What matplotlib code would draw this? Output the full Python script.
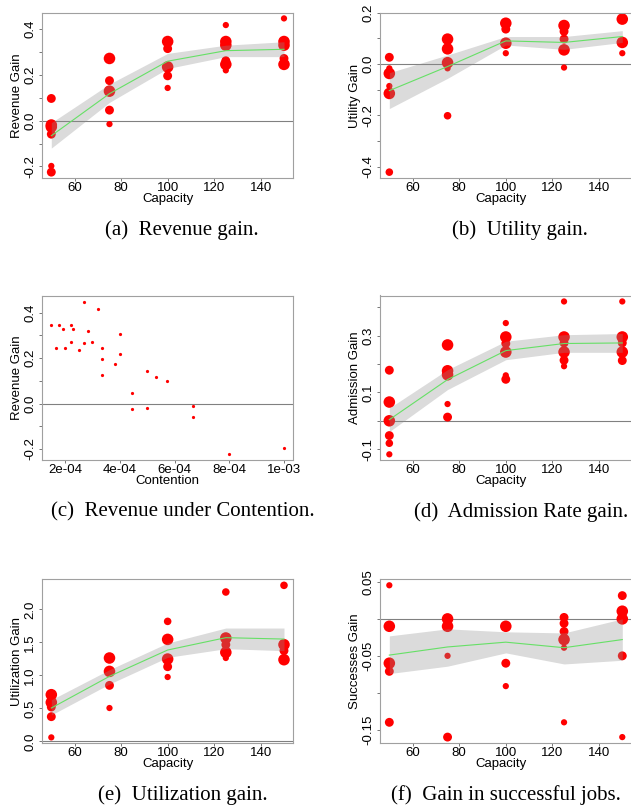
import matplotlib
matplotlib.use("Agg")
import matplotlib.pyplot as plt

W, H = 631, 807

# === Data ===
capacity = [50, 75, 100, 125, 150]

# (a) revenue gain: capacity, gain, point weight
rev_x = [50, 50, 50, 50, 50, 50,
         75, 75, 75, 75, 75,
         100, 100, 100, 100, 100,
         125, 125, 125, 125, 125, 125,
         150, 150, 150, 150, 150]
rev_y = [0.097, -0.019, -0.027, -0.059, -0.198, -0.225,
         0.272, 0.175, 0.129, 0.046, -0.015,
         0.346, 0.315, 0.235, 0.196, 0.143,
         0.418, 0.346, 0.330, 0.262, 0.246, 0.220,
         0.447, 0.346, 0.330, 0.272, 0.246]
rev_w = [2, 3, 3, 2, 1, 2,
         3, 2, 3, 2, 1,
         3, 2, 3, 2, 1,
         1, 3, 3, 2, 3, 1,
         1, 3, 3, 2, 3]
rev_fit = [-0.066, 0.118, 0.260, 0.306, 0.312]
rev_lo = [-0.120, 0.080, 0.228, 0.280, 0.280]
rev_hi = [-0.009, 0.160, 0.294, 0.330, 0.345]

# (b) utility gain
util_x = [50, 50, 50, 50, 50, 50,
          75, 75, 75, 75, 75,
          100, 100, 100, 100,
          125, 125, 125, 125, 125,
          150, 150, 150]
util_y = [0.026, -0.017, -0.037, -0.086, -0.115, -0.422,
          0.097, 0.059, 0.005, -0.017, -0.202,
          0.159, 0.136, 0.081, 0.042,
          0.150, 0.127, 0.097, 0.055, -0.014,
          0.175, 0.084, 0.042]
util_w = [2, 1, 3, 1, 3, 1.5,
          3, 3, 3, 1, 1.5,
          3, 2, 3, 1,
          3, 2, 2, 3, 1,
          3, 3, 1]
util_fit = [-0.104, -0.010, 0.090, 0.084, 0.107]
util_lo = [-0.174, -0.056, 0.074, 0.057, 0.084]
util_hi = [-0.034, 0.035, 0.107, 0.107, 0.130]

# (c) revenue gain vs contention
cont_x = [1.49e-4, 1.67e-4, 1.77e-4, 1.91e-4, 2.00e-4, 2.22e-4, 2.22e-4, 2.28e-4,
          2.50e-4, 2.67e-4, 2.67e-4, 2.85e-4, 2.98e-4, 3.20e-4, 3.34e-4, 3.34e-4,
          3.34e-4, 3.81e-4, 4.00e-4, 4.00e-4, 4.44e-4, 4.44e-4, 4.99e-4, 4.99e-4,
          5.33e-4, 5.72e-4, 6.68e-4, 6.68e-4, 8.00e-4, 1.00e-3]
cont_y = [0.347, 0.245, 0.347, 0.330, 0.245, 0.347, 0.273, 0.330,
          0.234, 0.447, 0.267, 0.318, 0.273, 0.418, 0.245, 0.196,
          0.127, 0.176, 0.305, 0.220, 0.047, -0.025, 0.145, -0.019,
          0.119, 0.097, -0.012, -0.059, -0.224, -0.198]
cont_ticks = [2e-4, 4e-4, 6e-4, 8e-4, 1e-3]
cont_labels = ["2e-04", "4e-04", "6e-04", "8e-04", "1e-03"]

# (d) admission gain
adm_x = [50, 50, 50, 50, 50, 50,
         75, 75, 75, 75, 75,
         100, 100, 100, 100, 100, 100,
         125, 125, 125, 125, 125, 125,
         150, 150, 150, 150, 150]
adm_y = [0.178, 0.066, 0.000, -0.052, -0.079, -0.118,
         0.267, 0.176, 0.162, 0.059, 0.013,
         0.344, 0.295, 0.272, 0.242, 0.160, 0.146,
         0.420, 0.295, 0.274, 0.242, 0.213, 0.192,
         0.420, 0.295, 0.274, 0.242, 0.212]
adm_w = [2, 3, 3, 2, 1.5, 1,
         3, 3, 3, 1, 2,
         1, 3, 2, 3, 1, 2,
         1, 3, 2, 3, 2, 1,
         1, 3, 2, 3, 2]
adm_fit = [0.004, 0.145, 0.247, 0.272, 0.274]
adm_lo = [-0.038, 0.110, 0.215, 0.241, 0.241]
adm_hi = [0.045, 0.180, 0.280, 0.303, 0.307]

# (e) utilization gain
ute_x = [50, 50, 50, 50, 50,
         75, 75, 75, 75,
         100, 100, 100, 100, 100,
         125, 125, 125, 125, 125,
         150, 150, 150, 150]
ute_y = [0.707, 0.590, 0.520, 0.374, 0.060,
         1.263, 1.060, 0.848, 0.505,
         1.818, 1.545, 1.247, 1.131, 0.975,
         2.263, 1.566, 1.465, 1.348, 1.263,
         2.364, 1.465, 1.374, 1.237]
ute_w = [3, 3, 2, 2, 1,
         3, 3, 2, 1,
         1.5, 3, 3, 2, 1,
         1.5, 3, 2, 3, 1,
         1.5, 3, 2, 3]
ute_fit = [0.505, 0.985, 1.384, 1.571, 1.550]
ute_lo = [0.400, 0.869, 1.273, 1.404, 1.374]
ute_hi = [0.630, 1.086, 1.490, 1.717, 1.717]

# (f) successes gain
succ_x = [50, 50, 50, 50, 50,
          75, 75, 75, 75,
          100, 100, 100,
          125, 125, 125, 125, 125, 125,
          150, 150, 150, 150, 150]
succ_y = [0.0455, -0.010, -0.060, -0.071, -0.140,
          0.000, -0.010, -0.050, -0.160,
          -0.010, -0.060, -0.091,
          0.002, -0.006, -0.017, -0.028, -0.039, -0.140,
          0.0315, 0.0104, 0.000, -0.050, -0.160]
succ_w = [1, 3, 3, 2, 2,
          3, 3, 1, 2,
          3, 2, 1,
          2, 2, 2, 3, 1, 1,
          2, 3, 3, 2, 1]
succ_fit = [-0.049, -0.038, -0.0315, -0.039, -0.028]
succ_lo = [-0.074, -0.064, -0.046, -0.061, -0.056]
succ_hi = [-0.023, -0.0135, -0.0175, -0.019, 0.000]

captions = ["(a)  Revenue gain.", "(b)  Utility gain.",
            "(c)  Revenue under Contention.", "(d)  Admission Rate gain.",
            "(e)  Utilization gain.", "(f)  Gain in successful jobs."]

# === Styling ===
RED = "#ff0000"
SANS = "Liberation Sans"
SERIF = "Liberation Serif"
FS = 9.5


def px_axes(fig, x0, x1, ytop, ybot):
    return fig.add_axes([x0 / W, 1 - ybot / H, (x1 - x0) / W, (ybot - ytop) / H])


def marker_area(w):
    # weight -> diameter in px -> area in pt^2
    d = 3.6 + 2.65 * w
    return (d * 0.72) ** 2


def style_axes(ax, yticks, ylabels, xticks, xlabels):
    for sp in ax.spines.values():
        sp.set_color("#a0a0a0")
        sp.set_linewidth(0.8)
    ax.set_yticks(yticks)
    ax.set_yticklabels(ylabels, rotation=90, va="center", fontsize=FS, family=SANS)
    ax.set_xticks(xticks)
    ax.set_xticklabels(xlabels, fontsize=FS, family=SANS)
    ax.tick_params(length=2.5, width=0.7, color="#777777", pad=1.5)
    ax.tick_params(axis="x", pad=0.5)
    ax.axhline(0, color="#808080", lw=0.8, zorder=1)


def gain_panel(ax, xs, ys, ws, fit, lo, hi, ylim):
    ax.scatter(xs, ys, s=[marker_area(w) for w in ws], color=RED, lw=0, zorder=2)
    ax.fill_between(capacity, lo, hi, color="#8f8f8f", alpha=0.32, lw=0, zorder=3)
    ax.plot(capacity, fit, color="#66e066", lw=0.8, zorder=4)
    ax.set_xlim(46, 154)
    ax.set_ylim(*ylim)


def tick_text(vals, keep, fmt):
    return [fmt.format(v) if k else "" for v, k in zip(vals, keep)]


fig = plt.figure(figsize=(W / 100, H / 100), dpi=100)

LX0, LX1 = 42, 293.3
RX0, RX1 = 380, 631.6
rows = [(12.7, 178.3), (295.5, 460), (579, 743)]
cap_x = [40, 60, 80, 100, 120, 140]
cap_lab = ["", "60", "80", "100", "120", "140"]

# (a)
ax = px_axes(fig, LX0, LX1, *rows[0])
gain_panel(ax, rev_x, rev_y, rev_w, rev_fit, rev_lo, rev_hi, (-0.252, 0.472))
yt = [-0.2, -0.1, 0.0, 0.1, 0.2, 0.3, 0.4]
style_axes(ax, yt, tick_text(yt, [1, 0, 1, 0, 1, 0, 1], "{:.1f}"), cap_x[1:], cap_lab[1:])

# (b)
ax = px_axes(fig, RX0, RX1, *rows[0])
gain_panel(ax, util_x, util_y, util_w, util_fit, util_lo, util_hi, (-0.446, 0.2))
yt = [-0.4, -0.3, -0.2, -0.1, 0.0, 0.1, 0.2]
style_axes(ax, yt, tick_text(yt, [1, 0, 1, 0, 1, 0, 1], "{:.1f}"), cap_x[1:], cap_lab[1:])

# (c)
ax = px_axes(fig, LX0, LX1, *rows[1])
ax.scatter(cont_x, cont_y, s=(3.2 * 0.72) ** 2, color=RED, lw=0, zorder=2)
ax.set_xlim(1.15e-4, 1.034e-3)
ax.set_ylim(-0.249, 0.476)
yt = [-0.2, -0.1, 0.0, 0.1, 0.2, 0.3, 0.4]
style_axes(ax, yt, tick_text(yt, [1, 0, 1, 0, 1, 0, 1], "{:.1f}"), cont_ticks, cont_labels)

# (d)
ax = px_axes(fig, RX0, RX1, *rows[1])
gain_panel(ax, adm_x, adm_y, adm_w, adm_fit, adm_lo, adm_hi, (-0.138, 0.441))
yt = [-0.1, 0.0, 0.1, 0.2, 0.3, 0.4]
style_axes(ax, yt, tick_text(yt, [1, 0, 1, 0, 1, 0], "{:.1f}"), cap_x[1:], cap_lab[1:])

# (e)
ax = px_axes(fig, LX0, LX1, *rows[2])
gain_panel(ax, ute_x, ute_y, ute_w, ute_fit, ute_lo, ute_hi, (-0.025, 2.46))
yt = [0.0, 0.5, 1.0, 1.5, 2.0]
style_axes(ax, yt, tick_text(yt, [1, 1, 1, 1, 1], "{:.1f}"), cap_x[1:], cap_lab[1:])

# (f)
ax = px_axes(fig, RX0, RX1, *rows[2])
gain_panel(ax, succ_x, succ_y, succ_w, succ_fit, succ_lo, succ_hi, (-0.168, 0.054))
yt = [-0.15, -0.10, -0.05, 0.0, 0.05]
style_axes(ax, yt, tick_text(yt, [1, 0, 1, 0, 1], "{:.2f}"), cap_x[1:], cap_lab[1:])

# === Axis labels and captions (pixel positions) ===
ylabels = ["Revenue Gain", "Utility Gain", "Revenue Gain",
           "Admission Gain", "Utilization Gain", "Successes Gain"]
xlabels = ["Capacity", "Capacity", "Contention", "Capacity", "Capacity", "Capacity"]
cap_cx = [182, 520, 183, 521, 183, 506]
for i in range(6):
    col, row = i % 2, i // 2
    x0, x1 = (LX0, LX1) if col == 0 else (RX0, RX1 - 9)
    ytop, ybot = rows[row]
    fig.text((x0 - 25) / W, 1 - (ytop + ybot) / 2 / H, ylabels[i], rotation=90,
             ha="center", va="center", fontsize=FS, family=SANS)
    cx = (LX0 + LX1) / 2 if col == 0 else (RX0 + RX1 - 9) / 2
    fig.text(cx / W, 1 - (ybot + 21) / H, xlabels[i], ha="center", va="center",
             fontsize=FS, family=SANS)
    fig.text(cap_cx[i] / W, 1 - (ybot + 52) / H, captions[i], ha="center", va="center",
             fontsize=15, family=SERIF)

fig.savefig("out.png", dpi=100)
